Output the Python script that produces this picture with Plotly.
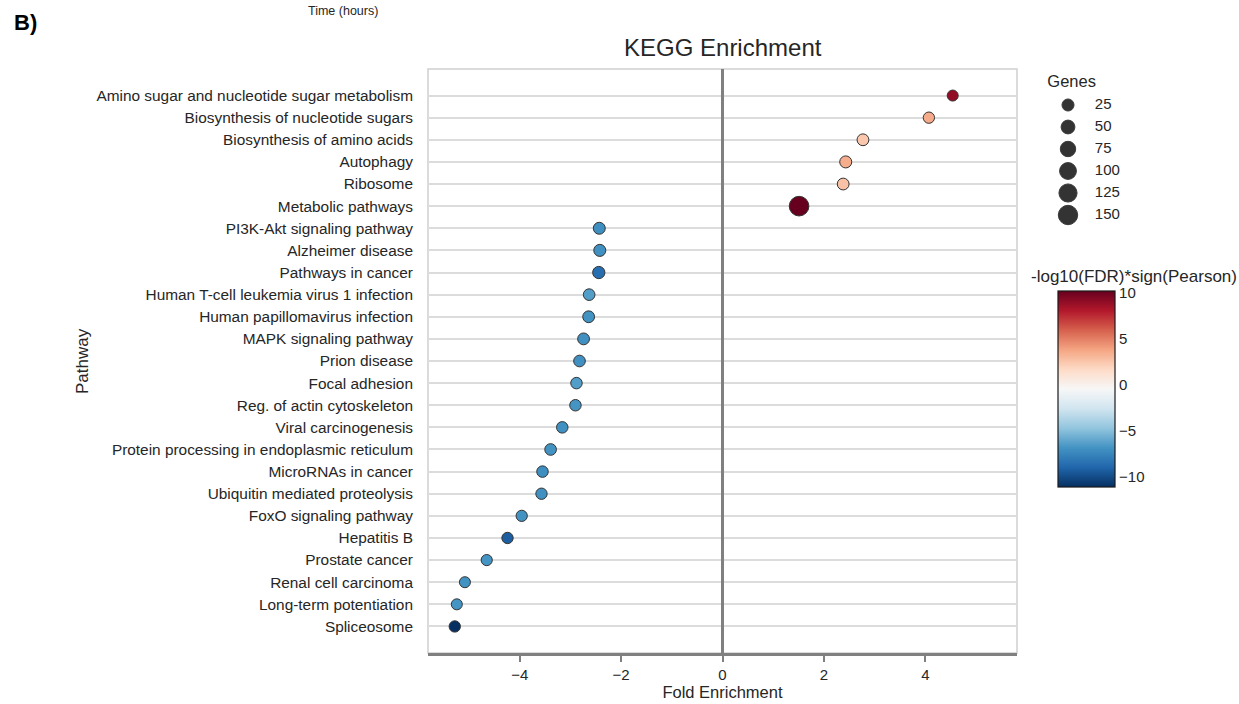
import numpy as np
import plotly.graph_objects as go

# ---------------- data ----------------
pathways = [
    "Amino sugar and nucleotide sugar metabolism",
    "Biosynthesis of nucleotide sugars",
    "Biosynthesis of amino acids",
    "Autophagy",
    "Ribosome",
    "Metabolic pathways",
    "PI3K-Akt signaling pathway",
    "Alzheimer disease",
    "Pathways in cancer",
    "Human T-cell leukemia virus 1 infection",
    "Human papillomavirus infection",
    "MAPK signaling pathway",
    "Prion disease",
    "Focal adhesion",
    "Reg. of actin cytoskeleton",
    "Viral carcinogenesis",
    "Protein processing in endoplasmic reticulum",
    "MicroRNAs in cancer",
    "Ubiquitin mediated proteolysis",
    "FoxO signaling pathway",
    "Hepatitis B",
    "Prostate cancer",
    "Renal cell carcinoma",
    "Long-term potentiation",
    "Spliceosome",
]
fold_enrichment = [4.54, 4.07, 2.77, 2.43, 2.38, 1.51,
                   -2.43, -2.42, -2.44, -2.63, -2.64, -2.74, -2.82, -2.88, -2.90,
                   -3.16, -3.39, -3.55, -3.57, -3.96, -4.24, -4.65, -5.08, -5.24, -5.28]
signed_fdr = [9.0, 3.6, 2.5, 3.5, 2.7, 10.2,
              -7.1, -7.0, -8.6, -6.4, -6.9, -7.0, -7.0, -6.4, -6.8,
              -7.0, -6.9, -7.1, -7.0, -6.9, -9.3, -6.8, -6.9, -6.8, -11.1]
genes = [12, 16, 22, 25, 22, 155,
         24, 25, 28, 20, 22, 22, 20, 18, 18,
         18, 20, 18, 16, 15, 16, 14, 12, 12, 16]
legend_genes = [25, 50, 75, 100, 125, 150]
x_ticks = [-4, -2, 0, 2, 4]
cbar_ticks = [10, 5, 0, -5, -10]

# RdBu_r (ColorBrewer)
rdbu = ['#67001f', '#b2182b', '#d6604d', '#f4a582', '#fddbc7', '#f7f7f7',
        '#d1e5f0', '#92c5de', '#4393c3', '#2166ac', '#053061'][::-1]
colorscale = [[i / (len(rdbu) - 1), c] for i, c in enumerate(rdbu)]


def size_px(g):
    return np.sqrt(110 + 1.9 * np.asarray(g, dtype=float)) - 0.5


FONT = "Liberation Sans, Arial, sans-serif"
TXT = "#262626"

W, H = 1239, 704
ML, MR, MT, MB = 428, 10, 69, 51
PW = W - ML - MR
PH = H - MT - MB
main_right = (1017 - ML) / PW

xmax = max(abs(v) for v in fold_enrichment) * 1.1
n = len(pathways)
pad = (n - 1) * 0.05

fig = go.Figure()

fig.add_trace(go.Scatter(
    x=fold_enrichment, y=list(range(n)), mode="markers",
    marker=dict(size=size_px(genes), color=signed_fdr, colorscale=colorscale,
                cmin=min(signed_fdr), cmax=max(signed_fdr), opacity=1,
                line=dict(color="#333333", width=1),
                colorbar=dict(
                    xref="paper", yref="paper",
                    x=(1058 - ML) / PW, xanchor="left", xpad=0,
                    y=(653 - 389) / PH, yanchor="middle", ypad=0,
                    lenmode="pixels", len=196,
                    thicknessmode="pixels", thickness=57,
                    outlinecolor="#1a1a1a", outlinewidth=1.2,
                    tickvals=cbar_ticks, ticks="",
                    tickfont=dict(family=FONT, size=15, color=TXT),
                )),
    opacity=1, showlegend=False, hoverinfo="skip", cliponaxis=False,
))

# size legend on auxiliary axes
fig.add_trace(go.Scatter(
    x=[0.225] * len(legend_genes), y=list(range(1, len(legend_genes) + 1)),
    mode="markers", marker=dict(size=size_px(legend_genes), color="#333333", opacity=1,
                                line=dict(color="#3a3a3a", width=1)),
    xaxis="x2", yaxis="y2", showlegend=False, hoverinfo="skip", cliponaxis=False,
))
fig.add_trace(go.Scatter(
    x=[0.56] * len(legend_genes), y=list(range(1, len(legend_genes) + 1)),
    mode="text", text=[str(g) for g in legend_genes], textposition="middle right",
    textfont=dict(family=FONT, size=15, color=TXT),
    xaxis="x2", yaxis="y2", showlegend=False, hoverinfo="skip", cliponaxis=False,
))
fig.add_trace(go.Scatter(
    x=[0.27], y=[0], mode="text", text=["Genes"], textposition="middle center",
    textfont=dict(family=FONT, size=16.5, color=TXT),
    xaxis="x2", yaxis="y2", showlegend=False, hoverinfo="skip", cliponaxis=False,
))

fig.update_layout(
    width=W, height=H,
    margin=dict(l=ML, r=MR, t=MT, b=MB, autoexpand=False),
    paper_bgcolor="white", plot_bgcolor="white",
    font=dict(family=FONT, color=TXT),
    xaxis=dict(domain=[0, main_right], range=[-xmax, xmax], tickvals=x_ticks,
               showgrid=False, zeroline=True, zerolinecolor="#808080", zerolinewidth=3,
               showline=True, linecolor="#808080", linewidth=3,
               ticks="outside", ticklen=6, tickwidth=1.5, tickcolor="#808080",
               tickfont=dict(family=FONT, size=15, color=TXT), automargin=False,
               title=dict(text="Fold Enrichment", font=dict(family=FONT, size=16.5, color=TXT),
                          standoff=2)),
    yaxis=dict(range=[n - 1 + pad, -pad], tickvals=list(range(n)), ticktext=pathways,
               showgrid=True, gridcolor="#dcdcdc", gridwidth=2, zeroline=False,
               showline=False, ticks="", ticklabelstandoff=14, automargin=False,
               tickfont=dict(family=FONT, size=15.4, color=TXT)),
    xaxis2=dict(domain=[(1050 - ML) / PW, (1130 - ML) / PW], range=[0, 1],
                visible=False, anchor="y2"),
    yaxis2=dict(domain=[(653 - 226) / PH, (653 - 72) / PH], range=[6.5, -0.5],
                visible=False, anchor="x2"),
    shapes=[dict(type="rect", xref="x domain", yref="y domain", x0=0, x1=1, y0=0, y1=1,
                 line=dict(color="#d0d0d0", width=1.5), layer="below")],
    annotations=[
        dict(text="KEGG Enrichment", xref="x domain", yref="paper", x=0.5, y=(653 - 48) / PH,
             showarrow=False, font=dict(family=FONT, size=24, color=TXT),
             xanchor="center", yanchor="middle"),
        dict(text="Pathway", xref="paper", yref="y domain", x=(82 - ML) / PW, y=0.5,
             textangle=-90, showarrow=False, font=dict(family=FONT, size=17, color=TXT),
             xanchor="center", yanchor="middle"),
        dict(text="-log10(FDR)*sign(Pearson)", xref="paper", yref="paper",
             x=(1134 - ML) / PW, y=(653 - 276) / PH, showarrow=False,
             font=dict(family=FONT, size=17, color=TXT), xanchor="center", yanchor="middle"),
        dict(text="<b>B)</b>", xref="paper", yref="paper", x=(12 - ML) / PW,
             y=(653 - 22) / PH, showarrow=False, font=dict(family=FONT, size=22, color="black"),
             xanchor="left", yanchor="middle"),
        dict(text="Time (hours)", xref="paper", yref="paper", x=(343 - ML) / PW,
             y=(653 - 11) / PH, showarrow=False, font=dict(family=FONT, size=12.5, color=TXT),
             xanchor="center", yanchor="middle"),
    ],
)

fig.write_html("out.html")
